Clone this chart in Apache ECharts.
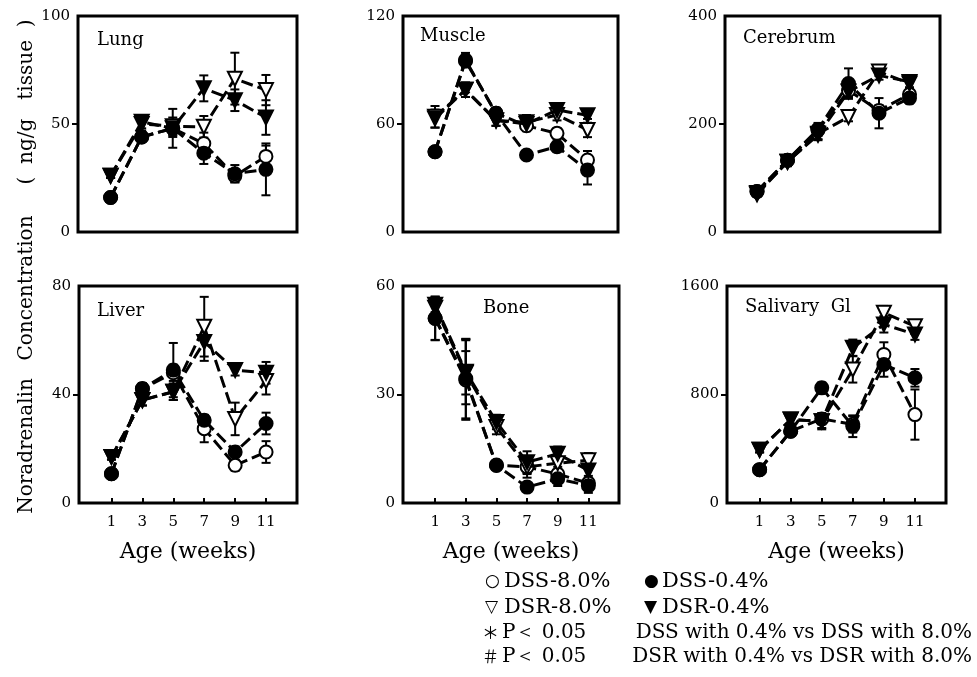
<!DOCTYPE html>
<html lang="en">
<head>
<meta charset="UTF-8">
<title>noradrenalin</title>
<style>
  html, body { margin: 0; padding: 0; background: #fff; }
  #main { width: 977px; height: 677px; }
</style>
<script src="https://cdn.jsdelivr.net/npm/echarts@6/dist/echarts.min.js"></script>
</head>
<body>
<div id="main"></div>
<script>
// age in weeks
var weeks = [1, 3, 5, 7, 9, 11];

// Lung
var lungDss8 = [16, 44, 48, 41, 26, 35];
var lungDss04 = [16, 44, 48, 36.5, 27, 29];
var lungDsr8 = [26, 50, 49, 48.7, 71, 65.7];
var lungDsr04 = [26, 51, 48, 66.5, 61, 53];
var lungDss8Err = [1, 2, 3, 5, 3, 5];
var lungDss04Err = [1, 2, 9, 5, 4, 12];
var lungDsr8Err = [1, 3, 4, 5, 12, 7];
var lungDsr04Err = [1, 3, 4, 6, 5, 8];

// Muscle
var muscleDss8 = [44.6, 95, 66, 59, 54.8, 40];
var muscleDss04 = [44.6, 95.5, 66, 42.8, 47.4, 34.4];
var muscleDsr8 = [64, 79, 62, 61, 65, 56.7];
var muscleDsr04 = [63, 79, 62, 60, 67.8, 64.8];
var muscleDss8Err = [1, 3, 3, 3, 3, 5];
var muscleDss04Err = [1, 4, 3, 1, 3, 8];
var muscleDsr8Err = [6, 4, 3, 4, 3, 4];
var muscleDsr04Err = [5, 4, 3, 3, 2, 2];

// Cerebrum
var cerebrumDss8 = [75, 133, 189, 262, 225, 255];
var cerebrumDss04 = [75, 133, 190, 275, 220, 248];
var cerebrumDsr8 = [72, 130, 182, 213, 297, 275];
var cerebrumDsr04 = [70, 130, 180, 260, 290, 278];
var cerebrumDss8Err = [5, 8, 10, 15, 10, 10];
var cerebrumDss04Err = [5, 8, 12, 28, 28, 10];
var cerebrumDsr8Err = [5, 8, 10, 8, 8, 8];
var cerebrumDsr04Err = [5, 8, 10, 10, 8, 10];

// Liver
var liverDss8 = [10.8, 42, 48, 27.4, 13.9, 18.8];
var liverDss04 = [10.8, 42.2, 49, 30.5, 18.8, 29.3];
var liverDsr8 = [17, 38, 41, 65, 31, 45];
var liverDsr04 = [17, 37.9, 41, 59.4, 49, 48];
var liverDss8Err = [1, 2, 3, 5, 2, 4];
var liverDss04Err = [1, 2, 10, 2, 2, 4];
var liverDsr8Err = [1, 2, 3, 11, 6, 5];
var liverDsr04Err = [1, 2, 3, 7, 2, 4];

// Bone
var boneDss8 = [51, 34, 10.5, 10, 8, 5.5];
var boneDss04 = [51.1, 34.4, 10.4, 4.4, 6.7, 4.8];
var boneDsr8 = [54, 36, 21, 10, 11, 11.8];
var boneDsr04 = [54.8, 36.3, 22.4, 11.3, 13.6, 9];
var boneDss8Err = [6, 11, 1, 2, 2, 2];
var boneDss04Err = [6, 11, 1, 1, 2, 2];
var boneDsr8Err = [2, 6, 2, 3, 2, 2];
var boneDsr04Err = [2, 9, 2, 3, 2, 3];

// Salivary Gl
var salivaryDss8 = [246, 529, 620, 580, 1095, 652];
var salivaryDss04 = [246, 529, 849, 566, 1021, 923];
var salivaryDsr8 = [393, 615, 603, 985, 1403, 1304];
var salivaryDsr04 = [393, 615, 603, 1145, 1317, 1243];
var salivaryDss8Err = [20, 30, 40, 60, 90, 185];
var salivaryDss04Err = [20, 30, 40, 80, 90, 65];
var salivaryDsr8Err = [20, 30, 50, 97, 50, 40];
var salivaryDsr04Err = [20, 30, 60, 60, 60, 40];

var panelNames = ['Lung', 'Muscle', 'Cerebrum', 'Liver', 'Bone', 'Salivary  Gl'];
var yMax = [100, 120, 400, 80, 60, 1600];
var xTickLabels = ['1', '3', '5', '7', '9', '11'];

var panelData = [
  [lungDss8, lungDss04, lungDsr8, lungDsr04],
  [muscleDss8, muscleDss04, muscleDsr8, muscleDsr04],
  [cerebrumDss8, cerebrumDss04, cerebrumDsr8, cerebrumDsr04],
  [liverDss8, liverDss04, liverDsr8, liverDsr04],
  [boneDss8, boneDss04, boneDsr8, boneDsr04],
  [salivaryDss8, salivaryDss04, salivaryDsr8, salivaryDsr04]
];
var panelErr = [
  [lungDss8Err, lungDss04Err, lungDsr8Err, lungDsr04Err],
  [muscleDss8Err, muscleDss04Err, muscleDsr8Err, muscleDsr04Err],
  [cerebrumDss8Err, cerebrumDss04Err, cerebrumDsr8Err, cerebrumDsr04Err],
  [liverDss8Err, liverDss04Err, liverDsr8Err, liverDsr04Err],
  [boneDss8Err, boneDss04Err, boneDsr8Err, boneDsr04Err],
  [salivaryDss8Err, salivaryDss04Err, salivaryDsr8Err, salivaryDsr04Err]
];

var serif = 'DejaVu Serif';

// grid boxes (left, top, width, height)
var boxes = [
  [78, 16, 219, 216], [403, 16, 215, 216], [725, 16, 215, 216],
  [79, 286, 218, 217], [403, 286, 216, 217], [727, 286, 219, 217]
];

// open circle, filled circle, open triangle, filled triangle
var marks = [
  { name: 'DSS-8.0%', symbol: 'circle', fill: '#fff', rot: 0 },
  { name: 'DSS-0.4%', symbol: 'circle', fill: '#000', rot: 0 },
  { name: 'DSR-8.0%', symbol: 'triangle', fill: '#fff', rot: 180 },
  { name: 'DSR-0.4%', symbol: 'triangle', fill: '#000', rot: 180 }
];

function renderErr(params, api) {
  var x = api.value(0);
  var lo = api.coord([x, api.value(1)]);
  var hi = api.coord([x, api.value(2)]);
  var w = 4.5;
  var st = { stroke: '#000', lineWidth: 2 };
  return {
    type: 'group',
    children: [
      { type: 'line', shape: { x1: lo[0], y1: lo[1], x2: hi[0], y2: hi[1] }, style: st },
      { type: 'line', shape: { x1: lo[0] - w, y1: lo[1], x2: lo[0] + w, y2: lo[1] }, style: st },
      { type: 'line', shape: { x1: hi[0] - w, y1: hi[1], x2: hi[0] + w, y2: hi[1] }, style: st }
    ]
  };
}

var grids = [], xAxes = [], yAxes = [], series = [];

for (var p = 0; p < 6; p++) {
  var b = boxes[p];
  var bottomRow = p >= 3;
  grids.push({
    left: b[0], top: b[1], width: b[2], height: b[3],
    show: true, borderColor: '#000', borderWidth: 3, backgroundColor: 'transparent'
  });
  xAxes.push({
    type: 'value', gridIndex: p, min: -1.1, max: 13,
    axisLine: { show: false, onZero: false },
    splitLine: { show: false },
    axisTick: {
      show: bottomRow, inside: true, length: 5,
      customValues: weeks, lineStyle: { color: '#000', width: 2 }
    },
    axisLabel: {
      show: bottomRow, customValues: weeks, margin: 12,
      formatter: function (v) { return xTickLabels[weeks.indexOf(v)]; },
      color: '#000', fontFamily: serif, fontSize: 15
    },
    name: bottomRow ? 'Age (weeks)' : '',
    nameLocation: 'middle', nameGap: 38,
    nameTextStyle: { color: '#000', fontFamily: serif, fontSize: 22 }
  });
  yAxes.push({
    type: 'value', gridIndex: p, min: 0, max: yMax[p], interval: yMax[p] / 2,
    axisLine: { show: false, onZero: false },
    splitLine: { show: false },
    axisTick: {
      show: true, inside: false, length: 6,
      customValues: [yMax[p] / 2], lineStyle: { color: '#000', width: 2 }
    },
    axisLabel: {
      color: '#000', fontFamily: serif, fontSize: 15, margin: 8,
      formatter: function (v) { return String(v); }
    }
  });

  // error bars underneath
  for (var s = 0; s < 4; s++) {
    var vals = panelData[p][s], errs = panelErr[p][s];
    var eb = [];
    for (var i = 0; i < weeks.length; i++) {
      eb.push([weeks[i], vals[i] - errs[i], vals[i] + errs[i]]);
    }
    series.push({
      type: 'custom', xAxisIndex: p, yAxisIndex: p, z: 1,
      renderItem: renderErr, encode: { x: 0, y: [1, 2] },
      data: eb, silent: true
    });
  }
  // open markers first, filled on top
  for (var s2 = 0; s2 < 4; s2++) {
    var m = marks[s2];
    var pts = [];
    for (var j = 0; j < weeks.length; j++) pts.push([weeks[j], panelData[p][s2][j]]);
    series.push({
      name: m.name, type: 'line', xAxisIndex: p, yAxisIndex: p, z: 3 + s2,
      data: pts,
      symbol: m.symbol, symbolSize: m.symbol === 'circle' ? 13 : 14,
      symbolRotate: m.rot, showAllSymbol: true,
      itemStyle: { color: m.fill, borderColor: '#000', borderWidth: 2, opacity: 1 },
      lineStyle: { color: '#000', width: 3, type: [12, 5] },
      animation: false
    });
  }
}

var titlePos = [[97, 40], [420, 36], [743, 38], [97, 311], [483, 308], [745, 307]];
var graphics = [];
for (var t = 0; t < 6; t++) {
  graphics.push({
    type: 'text', x: titlePos[t][0], y: titlePos[t][1], z: 10,
    style: { text: panelNames[t], fill: '#000', font: '18px "DejaVu Serif"', verticalAlign: 'middle' }
  });
}

// vertical axis title, three pieces reading bottom to top
var yTitleParts = ['Noradrenalin', 'Concentration', '(  ng/g   tissue  )'];
var yTitleCenters = [446, 288, 102];
for (var k = 0; k < 3; k++) {
  graphics.push({
    type: 'text', x: 27, y: yTitleCenters[k], rotation: Math.PI / 2, z: 10,
    style: {
      text: yTitleParts[k], fill: '#000',
      font: '20px "DejaVu Serif"', align: 'center', verticalAlign: 'middle'
    }
  });
}

// legend block
var legendRows = [
  ['○', 'DSS-8.0%', '●', 'DSS-0.4%'],
  ['▽', 'DSR-8.0%', '▼', 'DSR-0.4%']
];
var legY = [582, 608, 633, 657];
for (var r = 0; r < 2; r++) {
  graphics.push({ type: 'text', x: 485, y: legY[r], z: 10,
    style: { text: legendRows[r][0], fill: '#000', font: '17px "DejaVu Sans"', verticalAlign: 'middle' } });
  graphics.push({ type: 'text', x: 504, y: legY[r], z: 10,
    style: { text: legendRows[r][1], fill: '#000', font: '21px "DejaVu Serif"', verticalAlign: 'middle' } });
  graphics.push({ type: 'text', x: 644, y: legY[r], z: 10,
    style: { text: legendRows[r][2], fill: '#000', font: '17px "DejaVu Sans"', verticalAlign: 'middle' } });
  graphics.push({ type: 'text', x: 662, y: legY[r], z: 10,
    style: { text: legendRows[r][3], fill: '#000', font: '21px "DejaVu Serif"', verticalAlign: 'middle' } });
}
var noteMarks = ['＊', '＃'];
var noteText = ['DSS with 0.4% vs DSS with 8.0%', 'DSR with 0.4% vs DSR with 8.0%'];
for (var n = 0; n < 2; n++) {
  graphics.push({ type: 'text', x: 482, y: legY[n + 2], z: 10,
    style: { text: noteMarks[n], fill: '#000', font: '17px "Noto Sans CJK JP"', verticalAlign: 'middle' } });
  graphics.push({ type: 'text', x: 502, y: legY[n + 2], z: 10,
    style: { text: 'P＜ 0.05', fill: '#000', font: '20px "DejaVu Serif"', verticalAlign: 'middle' } });
  graphics.push({ type: 'text', x: 972, y: legY[n + 2], z: 10,
    style: { text: noteText[n], fill: '#000', font: '20px "DejaVu Serif"', align: 'right', verticalAlign: 'middle' } });
}

var chart = echarts.init(document.getElementById('main'));
chart.setOption({
  backgroundColor: '#fff',
  animation: false,
  grid: grids,
  xAxis: xAxes,
  yAxis: yAxes,
  series: series,
  graphic: graphics
});
</script>
</body>
</html>
